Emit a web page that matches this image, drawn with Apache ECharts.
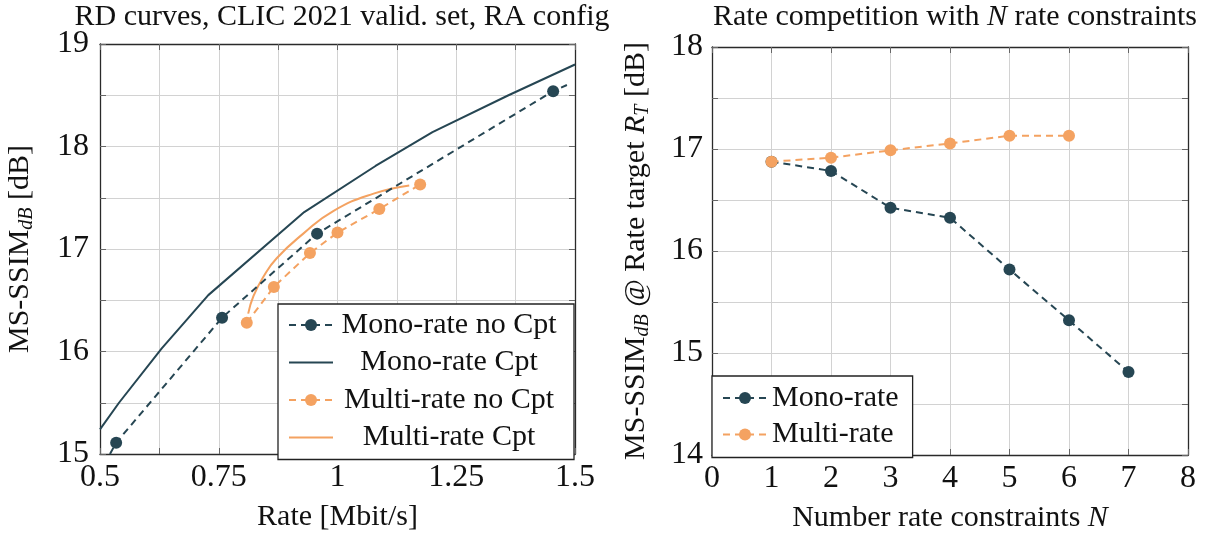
<!DOCTYPE html>
<html>
<head>
<meta charset="utf-8">
<script src="https://cdn.jsdelivr.net/npm/echarts@6/dist/echarts.min.js"></script>
<style>
  html, body { margin: 0; padding: 0; background: #fff; }
  #chart { width: 1219px; height: 538px; }
</style>
</head>
<body>
<div id="chart"></div>
<script>
// ---- RD curves (left panel) ----
const monoNoCptRate = [0.534, 0.757, 0.957, 1.454];
const monoNoCptSsim = [15.11, 16.33, 17.15, 18.54];
// dashed trace runs slightly past the first and last operating points
const monoNoCptLeadIn = [0.521, 15.0];
const monoNoCptLeadOut = [1.483, 18.60];

const monoCptRate = [0.5, 0.54, 0.63, 0.728, 0.93, 1.08, 1.2, 1.36, 1.5];
const monoCptSsim = [15.24, 15.5, 16.03, 16.55, 17.36, 17.81, 18.14, 18.5, 18.8];

const multiNoCptRate = [0.809, 0.866, 0.942, 1.0, 1.088, 1.174];
const multiNoCptSsim = [16.28, 16.63, 16.96, 17.16, 17.39, 17.63];

const multiCptRate = [0.812, 0.823, 0.844, 0.872, 0.928, 0.991, 1.076, 1.151];
const multiCptSsim = [16.37, 16.54, 16.73, 16.91, 17.15, 17.37, 17.54, 17.62];

// ---- Rate competition (right panel) ----
const nConstraints = [1, 2, 3, 4, 5, 6, 7];
const monoRateSsim = [16.876, 16.785, 16.424, 16.326, 15.818, 15.32, 14.814];
const multiRateN = [1, 2, 3, 4, 5, 6];
const multiRateSsim = [16.876, 16.915, 16.987, 17.055, 17.13, 17.13];

const DARK = '#264653';
const ORANGE = '#F4A261';
const FONT = '"Liberation Serif", "DejaVu Serif", serif';
const TXT = '#111';

const zip = (xs, ys) => xs.map((x, i) => [x, ys[i]]);
const bare = p => ({ value: p, symbol: 'none' });

const chart = echarts.init(document.getElementById('chart'), null, { renderer: 'canvas' });

const gridLine = { show: true, lineStyle: { color: '#d2d2d2', width: 1 } };
const tickIn = { show: true, inside: true, length: 6, lineStyle: { color: '#666', width: 1 } };
const frame = { show: true, onZero: false, lineStyle: { color: '#2a2a2a', width: 1.3 } };
const tickFont = { fontFamily: FONT, fontSize: 32, color: TXT };
const NAME_SIZE = 30;
const nameFont = {
  fontFamily: FONT, fontSize: NAME_SIZE, color: TXT,
  rich: {
    s: { fontFamily: FONT, fontSize: 20, fontStyle: 'italic', color: TXT, padding: [13, 0, 0, 0] },
    i: { fontFamily: FONT, fontSize: NAME_SIZE, fontStyle: 'italic', color: TXT }
  }
};

function quarterLabel(v) {
  return Math.abs(v * 4 - Math.round(v * 4)) < 1e-6 ? String(+v.toFixed(2)) : '';
}
function intLabel(v) {
  return Math.abs(v - Math.round(v)) < 1e-6 ? String(Math.round(v)) : '';
}

function mirrorAxis(base, pos) {
  return Object.assign({}, base, {
    position: pos, name: '', axisLabel: { show: false }, splitLine: { show: false }
  });
}

const xLeft = {
  type: 'value', gridIndex: 0, min: 0.5, max: 1.5, interval: 0.125,
  axisLine: frame, axisTick: tickIn, splitLine: gridLine,
  axisLabel: Object.assign({ margin: 8, formatter: quarterLabel }, tickFont),
  name: 'Rate [Mbit/s]', nameLocation: 'middle', nameGap: 48, nameTextStyle: nameFont
};
const yLeft = {
  type: 'value', gridIndex: 0, min: 15, max: 19, interval: 0.5,
  axisLine: frame, axisTick: tickIn, splitLine: gridLine,
  axisLabel: Object.assign({ margin: 11, formatter: intLabel }, tickFont),
  name: 'MS-SSIM{s|dB} [dB]', nameLocation: 'middle', nameRotate: 90, nameGap: 63,
  nameTextStyle: nameFont
};
const xRight = {
  type: 'value', gridIndex: 1, min: 0, max: 8, interval: 1,
  axisLine: frame, axisTick: tickIn, splitLine: gridLine,
  axisLabel: Object.assign({ margin: 8 }, tickFont),
  name: 'Number rate constraints {i|N}', nameLocation: 'middle', nameGap: 48, nameTextStyle: nameFont
};
const yRight = {
  type: 'value', gridIndex: 1, min: 14, max: 18, interval: 0.5,
  axisLine: frame, axisTick: tickIn, splitLine: gridLine,
  axisLabel: Object.assign({ margin: 9, formatter: intLabel }, tickFont),
  name: 'MS-SSIM{s|dB} @ Rate target {i|R}{s|T} [dB]', nameLocation: 'middle', nameRotate: 90,
  nameGap: 59, nameTextStyle: nameFont
};

const dashed = c => ({ color: c, width: 2, type: [7, 5] });
const solid = c => ({ color: c, width: 2, type: 'solid' });
// legend entries of plain curves show only the line, no marker
const lineOnly = name => ({ name: name, itemStyle: { opacity: 0 } });

const TITLE_SIZE = 30;
const option = {
  animation: false,
  backgroundColor: '#fff',
  title: [
    {
      text: 'RD curves, CLIC 2021 valid. set, RA config',
      left: 337, top: -3, textAlign: 'center',
      textStyle: { fontFamily: FONT, fontSize: TITLE_SIZE, fontWeight: 'normal', color: TXT }
    },
    {
      text: 'Rate competition with {i|N} rate constraints',
      left: 950, top: -3, textAlign: 'center',
      textStyle: {
        fontFamily: FONT, fontSize: TITLE_SIZE, fontWeight: 'normal', color: TXT,
        rich: { i: { fontFamily: FONT, fontSize: TITLE_SIZE, fontStyle: 'italic', color: TXT } }
      }
    }
  ],
  grid: [
    { left: 100, right: 644, top: 44, bottom: 84 },
    { left: 712, right: 31, top: 47, bottom: 81 }
  ],
  xAxis: [xLeft, mirrorAxis(xLeft, 'top'), xRight, mirrorAxis(xRight, 'top')],
  yAxis: [yLeft, mirrorAxis(yLeft, 'right'), yRight, mirrorAxis(yRight, 'right')],
  legend: [
    {
      data: ['Mono-rate no Cpt', lineOnly('Mono-rate Cpt'), 'Multi-rate no Cpt', lineOnly('Multi-rate Cpt')],
      orient: 'vertical', left: 278, top: 304,
      padding: [6, 14, 7, 10], itemGap: 7.5, itemWidth: 44, itemHeight: 15,
      backgroundColor: '#fff', borderColor: '#222', borderWidth: 1.3, borderRadius: 0,
      formatter: n => '{c|' + n + '}',
      textStyle: {
        fontFamily: FONT, fontSize: 30, color: TXT,
        rich: { c: { fontFamily: FONT, fontSize: 30, color: TXT, width: 222, align: 'center', lineHeight: 28 } }
      }
    },
    {
      data: ['Mono-rate', 'Multi-rate'],
      orient: 'vertical', left: 712, top: 376,
      padding: [7, 14, 8, 10], itemGap: 6.5, itemWidth: 44, itemHeight: 15,
      backgroundColor: '#fff', borderColor: '#222', borderWidth: 1.3, borderRadius: 0,
      textStyle: { fontFamily: FONT, fontSize: 30, color: TXT, lineHeight: 28 }
    }
  ],
  series: [
    {
      name: 'Mono-rate no Cpt', type: 'line', xAxisIndex: 0, yAxisIndex: 0,
      data: [bare(monoNoCptLeadIn)].concat(zip(monoNoCptRate, monoNoCptSsim), [bare(monoNoCptLeadOut)]),
      symbol: 'circle', symbolSize: 12, showAllSymbol: true,
      lineStyle: dashed(DARK), itemStyle: { color: DARK }, z: 3
    },
    {
      name: 'Mono-rate Cpt', type: 'line', xAxisIndex: 0, yAxisIndex: 0,
      data: zip(monoCptRate, monoCptSsim), symbol: 'none',
      lineStyle: solid(DARK), itemStyle: { color: DARK }, z: 2
    },
    {
      name: 'Multi-rate no Cpt', type: 'line', xAxisIndex: 0, yAxisIndex: 0,
      data: zip(multiNoCptRate, multiNoCptSsim),
      symbol: 'circle', symbolSize: 12, showAllSymbol: true,
      lineStyle: dashed(ORANGE), itemStyle: { color: ORANGE }, z: 3
    },
    {
      name: 'Multi-rate Cpt', type: 'line', xAxisIndex: 0, yAxisIndex: 0,
      data: zip(multiCptRate, multiCptSsim), symbol: 'none', smooth: 0.5,
      lineStyle: solid(ORANGE), itemStyle: { color: ORANGE }, z: 2
    },
    {
      name: 'Mono-rate', type: 'line', xAxisIndex: 2, yAxisIndex: 2,
      data: zip(nConstraints, monoRateSsim),
      symbol: 'circle', symbolSize: 12, showAllSymbol: true,
      lineStyle: dashed(DARK), itemStyle: { color: DARK }, z: 3
    },
    {
      name: 'Multi-rate', type: 'line', xAxisIndex: 2, yAxisIndex: 2,
      data: zip(multiRateN, multiRateSsim),
      symbol: 'circle', symbolSize: 12, showAllSymbol: true,
      lineStyle: dashed(ORANGE), itemStyle: { color: ORANGE }, z: 4
    }
  ]
};

chart.setOption(option);
</script>
</body>
</html>
